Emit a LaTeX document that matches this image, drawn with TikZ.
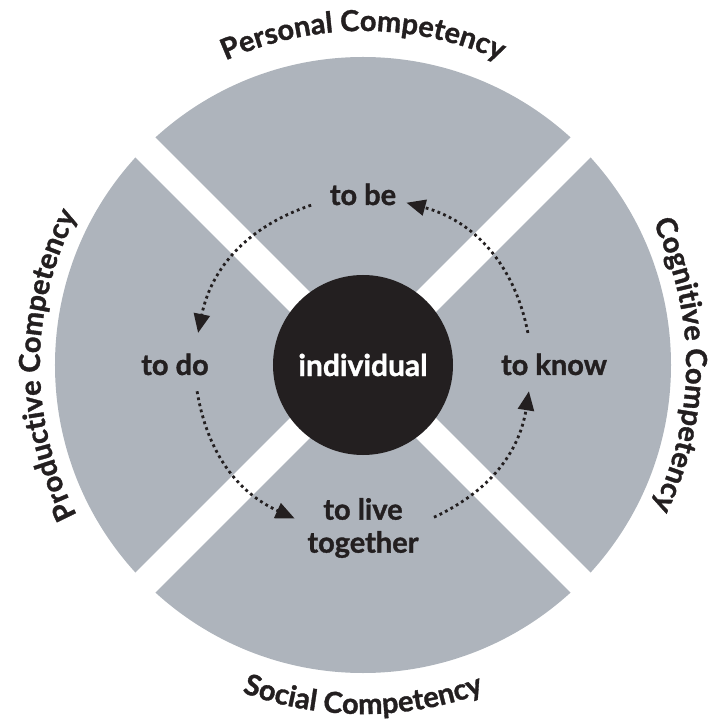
\documentclass[tikz,border=0pt]{standalone}
\usepackage{fontspec}
\setmainfont{Lato}[BoldFeatures={FakeBold=1.2}]
\usepackage{xcolor}
\usepackage{tikz}
\usetikzlibrary{arrows.meta, decorations.text, positioning}

\definecolor{sectorgray}{HTML}{AEB4BC}
\definecolor{inkblack}{HTML}{231F20}
\newcommand{\ringfont}{\bfseries\fontsize{29bp}{33bp}\selectfont}

\begin{document}
\begin{tikzpicture}[
        x=1bp, y=1bp,
        verb/.style={text=inkblack, font=\bfseries\fontsize{29bp}{33bp}\selectfont, align=center, inner sep=0pt},
        core/.style={circle, fill=inkblack, text=white, minimum size=180bp, inner sep=0pt, font=\bfseries\fontsize{30bp}{34bp}\selectfont},
        cycle/.style={draw=inkblack, line width=2.8bp, dash pattern=on 2.8bp off 3.4bp, -{Triangle[length=19bp, width=16bp]}},
        ringtext/.style={decorate, decoration={text along path, text align=center, text color=inkblack}}
    ]
        \useasboundingbox (-363,-354) rectangle (353,365);

        % Sectors
        \fill[sectorgray] (0,0) circle[radius=308];
        \fill[white, rotate=45] (-330,-14) rectangle (330,14);
        \fill[white, rotate=-45] (-330,-14) rectangle (330,14);

        % Centre
        \node[core] (individual) at (0,0) {individual};

        % Four ways of learning
        \node[verb, anchor=base] (tobe) at (0,160) {to be};
        \node[verb, anchor=base] (todo) at (-188,-10) {to do};
        \node[verb, anchor=base] (toknow) at (191,-10) {to know};
        \node[verb] (tolive) at (0,-163) {to live\\together};

        % Ends of the cycle
        \coordinate (know-out) at (11:168);
        \coordinate (be-in) at (75:168);
        \coordinate (be-out) at (108:168);
        \coordinate (do-in) at (169:168);
        \coordinate (do-out) at (189:168);
        \coordinate (live-in) at (246:168);
        \coordinate (live-out) at (295:168);
        \coordinate (know-in) at (351:168);

        % Cycle
        \draw[cycle] (know-out) to[bend right=32] (be-in);
        \draw[cycle] (be-out) to[bend right=30] (do-in);
        \draw[cycle] (do-out) to[bend right=28] (live-in);
        \draw[cycle] (live-out) to[bend right=28] (know-in);

        % Competencies round the ring
        \path[ringtext, decoration={text={|\ringfont|Personal Competency}}]
            (150:334) arc[start angle=150, end angle=30, radius=334];
        \path[ringtext, decoration={text={|\ringfont|Cognitive Competency}}]
            (60:323) arc[start angle=60, end angle=-60, radius=323];
        \path[ringtext, decoration={text={|\ringfont|Productive Competency}}]
            (240:323) arc[start angle=240, end angle=120, radius=323];
        \path[ringtext, decoration={text={|\ringfont|Social Competency}}]
            (210:349) arc[start angle=210, end angle=330, radius=349];
\end{tikzpicture}
\end{document}
